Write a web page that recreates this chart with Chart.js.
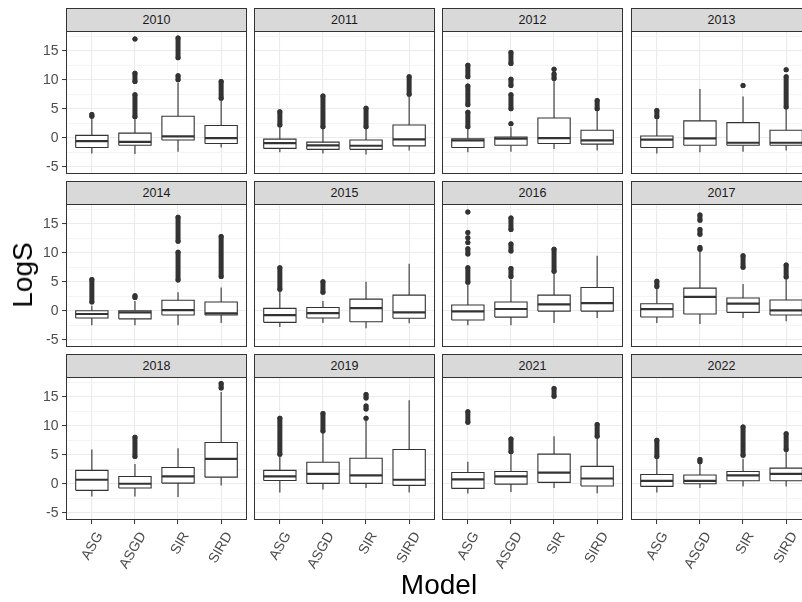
<!DOCTYPE html>
<html>
<head>
<meta charset="utf-8">
<script src="https://cdn.jsdelivr.net/npm/chart.js@4/dist/chart.umd.min.js"></script>
<style>
  html, body { margin: 0; padding: 0; background: #ffffff; overflow: hidden; }
  #page { position: relative; width: 802px; height: 602px; overflow: hidden; background: #ffffff;
          font-family: "Liberation Sans", Arial, sans-serif; }
  canvas { position: absolute; }
  .strip { position: absolute; box-sizing: border-box; border: 1px solid #333333; background: #d9d9d9;
           color: #1a1a1a; font-size: 12.5px; text-align: center; line-height: 22px; }
  .axis-title { position: absolute; color: #000000; font-size: 28px; white-space: nowrap; }
</style>
</head>
<body>
<div id="page"></div>
<script>
// Panels (one per year) and the four models on the x axis
const years = [2010, 2011, 2012, 2013, 2014, 2015, 2016, 2017, 2018, 2019, 2021, 2022];
const models = ['ASG', 'ASGD', 'SIR', 'SIRD'];

// Box statistics of LogS, one row per year, columns in model order
const whiskerLow = [
  [-2.7, -2.8, -2.4, -1.7],
  [-2.5, -2.7, -2.9, -2.2],
  [-2.5, -2.4, -1.95, -2.2],
  [-2.7, -2.5, -2.4, -2.2],
  [-2.5, -2.5, -2.5, -2.1],
  [-2.8, -2.1, -3.0, -2.15],
  [-2.5, -2.5, -2.1, -1.24],
  [-2.1, -2.3, -1.24, -1.8],
  [-2.2, -2.2, -2.3, -0.29],
  [-1.5, -1.0, -0.74, -1.5],
  [-1.7, -1.43, -0.74, -1.66],
  [-1.5, -0.74, -0.46, -0.46]
];
const quartile1 = [
  [-1.67, -1.3, -0.4, -1.0],
  [-1.84, -2.0, -2.0, -1.4],
  [-1.67, -1.3, -1.0, -1.1],
  [-1.67, -1.3, -1.3, -1.3],
  [-1.24, -1.4, -0.74, -0.74],
  [-2.0, -1.24, -1.9, -1.3],
  [-1.6, -1.1, -0.06, -0.06],
  [-1.07, -0.56, -0.28, -0.73],
  [-1.14, -0.74, 0.11, 1.14],
  [0.57, 0.06, 0.06, -0.29],
  [-0.8, -0.06, 0.23, -0.4],
  [-0.46, 0.0, 0.51, 0.51]
];
const medians = [
  [-0.57, -0.7, 0.23, -0.06],
  [-0.92, -1.32, -1.38, -0.29],
  [-0.46, -0.17, -0.06, -0.46],
  [-0.34, -0.1, -0.86, -0.86],
  [-0.56, -0.28, 0.1, -0.45],
  [-0.74, -0.4, 0.45, -0.28],
  [-0.1, 0.3, 1.1, 1.3],
  [0.28, 2.4, 1.24, 0.06],
  [0.69, 0.0, 1.26, 4.3],
  [1.26, 1.7, 1.43, 0.69],
  [0.74, 1.26, 1.9, 0.9],
  [0.5, 0.5, 1.43, 1.7]
];
const quartile3 = [
  [0.4, 0.8, 3.7, 2.1],
  [-0.23, -0.75, -0.4, 2.2],
  [-0.17, 0.1, 3.4, 1.3],
  [0.29, 2.9, 2.6, 1.3],
  [0.0, 0.0, 1.8, 1.5],
  [0.4, 0.56, 2.0, 2.7],
  [1.0, 1.5, 2.7, 4.0],
  [1.2, 3.9, 2.2, 1.86],
  [2.3, 1.26, 2.8, 7.1],
  [2.3, 3.7, 4.4, 5.9],
  [1.94, 2.1, 5.1, 3.0],
  [1.6, 1.5, 2.1, 2.7]
];
const whiskerHigh = [
  [3.3, 3.2, 9.5, 6.4],
  [1.8, 1.5, 1.5, 7.1],
  [1.5, 1.8, 9.8, 4.65],
  [3.2, 8.4, 7.1, 4.9],
  [0.85, 1.7, 3.2, 4.0],
  [3.4, 1.7, 5.0, 8.1],
  [4.5, 5.4, 6.4, 9.5],
  [3.8, 10.2, 4.6, 5.4],
  [5.9, 3.4, 6.1, 15.8],
  [4.7, 8.7, 10.8, 14.4],
  [3.8, 5.1, 8.2, 7.8],
  [4.3, 3.4, 4.3, 5.5]
];
// Outlying values: each entry is a [from, to] stretch of closely packed points
// (a single value is a lone point)
const outliers = [
  [[[3.7, 4.0]], [[3.6, 7.4], [9.7, 11.1], [17.0]], [[10.0, 10.7], [13.8, 17.2]], [[6.8, 9.7]]],
  [[[2.2, 4.5]], [[1.9, 7.2]], [[1.9, 5.1]], [[7.5, 10.5]]],
  [[[1.9, 4.4], [5.7, 8.9], [10.5, 12.5]], [[2.4], [5.0, 7.4], [9.0, 10.1], [12.8, 14.7]], [[10.2, 11.0], [11.8]], [[5.0, 6.4]]],
  [[[3.6, 4.7]], [], [[9.0]], [[5.3, 10.5], [11.7]]],
  [[[1.5, 5.4]], [[2.3, 2.6]], [[5.3, 10.1], [12.0, 16.1]], [[5.9, 12.8]]],
  [[[3.7, 7.4]], [[3.2, 5.0]], [], []],
  [[[4.9, 7.4], [9.8, 10.7], [11.75], [12.6], [13.5], [17.0]], [[5.9, 7.3], [10.3, 11.5], [14.0, 16.0]], [[6.8, 10.6]], []],
  [[[4.2, 5.1]], [[10.6, 10.9], [13.2, 14.0], [15.6, 16.5]], [[7.5, 9.5]], [[5.8, 7.9]]],
  [[], [[4.7, 8.0]], [], [[16.5, 17.3]]],
  [[[5.1, 11.3]], [[9.1, 12.1]], [[11.3], [12.9, 13.4], [14.8, 15.4]], []],
  [[[10.6, 12.4]], [[5.5, 7.7]], [[15.1, 16.4]], [[8.2, 10.2]]],
  [[[4.7, 7.5]], [[3.8, 4.2]], [[4.9, 9.8]], [[5.9, 8.6]]]
];
const yTicks = [-5, -2.5, 0, 2.5, 5, 7.5, 10, 12.5, 15, 17.5];

// Facet grid geometry (pixels)
const colLeft = [66, 254, 442, 631];
const rowTop = [31, 204, 377];
const panelW = 181, panelH = 143, stripH = 23;
const yAxisW = 66, xAxisH = 70;
const HALF_BOX = 0.375;
const INK = '#333333';

const page = document.getElementById('page');

const panelFrame = {
  id: 'panelFrame',
  afterDraw(chart) {
    const { ctx, chartArea: a } = chart;
    ctx.save();
    ctx.strokeStyle = INK;
    ctx.lineWidth = 1;
    ctx.strokeRect(a.left + 0.5, a.top + 0.5, a.right - a.left - 1, a.bottom - a.top - 1);
    ctx.restore();
  }
};

function buildDatasets(p) {
  const sets = [];
  const medianPts = [], whiskerPts = [], outlierPts = [];
  models.forEach((m, i) => {
    const x = i + 1;
    medianPts.push({ x: x - HALF_BOX, y: medians[p][i] }, { x: x + HALF_BOX, y: medians[p][i] }, { x: x, y: null });
    whiskerPts.push({ x: x, y: whiskerLow[p][i] }, { x: x, y: quartile1[p][i] }, { x: x, y: null },
                    { x: x, y: quartile3[p][i] }, { x: x, y: whiskerHigh[p][i] }, { x: x, y: null });
    outliers[p][i].forEach(run => {
      run.forEach(v => outlierPts.push({ x: x, y: v }));
      outlierPts.push({ x: x, y: null });
    });
    sets.push({
      label: m + ' box',
      data: [
        { x: x - HALF_BOX, y: quartile1[p][i] }, { x: x + HALF_BOX, y: quartile1[p][i] },
        { x: x + HALF_BOX, y: quartile3[p][i] }, { x: x - HALF_BOX, y: quartile3[p][i] },
        { x: x - HALF_BOX, y: quartile1[p][i] }
      ],
      borderColor: INK, borderWidth: 1.1, backgroundColor: '#ffffff',
      fill: 'shape', pointRadius: 0, order: 1
    });
  });
  sets.push({ label: 'median', data: medianPts, borderColor: INK, borderWidth: 2.2,
              pointRadius: 0, fill: false, spanGaps: false, order: 0, borderCapStyle: 'butt' });
  sets.push({ label: 'whisker', data: whiskerPts, borderColor: INK, borderWidth: 1.1,
              pointRadius: 0, fill: false, spanGaps: false, order: 2 });
  sets.push({ label: 'outlier', data: outlierPts, borderColor: INK, borderWidth: 5,
              borderCapStyle: 'round', pointRadius: 2.5, pointBorderWidth: 0,
              pointBackgroundColor: INK, fill: false, spanGaps: false, order: 3 });
  return sets;
}

function zeroPadding(s) { s.paddingLeft = 0; s.paddingRight = 0; s.paddingTop = 0; s.paddingBottom = 0; }

years.forEach((year, p) => {
  const r = Math.floor(p / 4), c = p % 4;
  const hasY = c === 0, hasX = r === 2;
  const left = hasY ? colLeft[c] - yAxisW : colLeft[c];
  const width = (hasY ? yAxisW : 0) + panelW;
  const height = panelH + (hasX ? xAxisH : 0);

  const strip = document.createElement('div');
  strip.className = 'strip';
  strip.style.left = colLeft[c] + 'px';
  strip.style.top = (rowTop[r] - stripH) + 'px';
  strip.style.width = panelW + 'px';
  strip.style.height = (stripH + 1) + 'px';
  strip.textContent = String(year);

  const canvas = document.createElement('canvas');
  canvas.width = width; canvas.height = height;
  canvas.style.left = left + 'px';
  canvas.style.top = rowTop[r] + 'px';
  canvas.style.width = width + 'px';
  canvas.style.height = height + 'px';
  page.appendChild(canvas);
  page.appendChild(strip);

  new Chart(canvas, {
    type: 'line',
    data: { datasets: buildDatasets(p) },
    options: {
      responsive: false,
      animation: false,
      devicePixelRatio: 1,
      layout: { padding: 0, autoPadding: false },
      plugins: { legend: { display: false }, tooltip: { enabled: false } },
      scales: {
        x: {
          type: 'linear', min: 0.4, max: 4.6,
          afterBuildTicks: s => { s.ticks = models.map((m, i) => ({ value: i + 1 })); },
          afterFit: s => { s.height = hasX ? xAxisH : 0; zeroPadding(s); },
          border: { display: false },
          grid: { color: '#ebebeb', lineWidth: 1.1, drawTicks: hasX, tickLength: 4,
                  tickColor: INK, tickWidth: 1 },
          ticks: {
            display: hasX, autoSkip: false, minRotation: 60, maxRotation: 60,
            padding: 5, labelOffset: 8, color: '#4d4d4d',
            font: { family: '"Liberation Sans", Arial, sans-serif', size: 14 },
            callback: v => models[Math.round(v) - 1]
          }
        },
        y: {
          type: 'linear', min: -6.25, max: 18.4,
          afterBuildTicks: s => { s.ticks = yTicks.map(v => ({ value: v })); },
          afterFit: s => { s.width = hasY ? yAxisW : 0; zeroPadding(s); },
          border: { display: false },
          grid: {
            color: ctx => (ctx.tick && ctx.tick.value % 5 === 0) ? '#ebebeb' : '#f4f4f4',
            lineWidth: ctx => (ctx.tick && ctx.tick.value % 5 === 0) ? 1.1 : 1,
            drawTicks: hasY, tickLength: 4, tickWidth: 1,
            tickColor: ctx => (ctx.tick && ctx.tick.value % 5 === 0) ? INK : 'rgba(0,0,0,0)'
          },
          ticks: {
            display: hasY, autoSkip: false, padding: 3.5, color: '#4d4d4d',
            font: { family: '"Liberation Sans", Arial, sans-serif', size: 14 },
            callback: v => (v % 5 === 0 ? String(v) : '')
          }
        }
      }
    },
    plugins: [panelFrame]
  });
});

// Axis titles
const yTitle = document.createElement('div');
yTitle.className = 'axis-title';
yTitle.textContent = 'LogS';
yTitle.style.left = '23px';
yTitle.style.top = '275px';
yTitle.style.transform = 'translate(-50%, -50%) rotate(-90deg)';
page.appendChild(yTitle);

const xTitle = document.createElement('div');
xTitle.className = 'axis-title';
xTitle.textContent = 'Model';
xTitle.style.left = '439px';
xTitle.style.top = '585px';
xTitle.style.transform = 'translate(-50%, -50%)';
page.appendChild(xTitle);
</script>
</body>
</html>
